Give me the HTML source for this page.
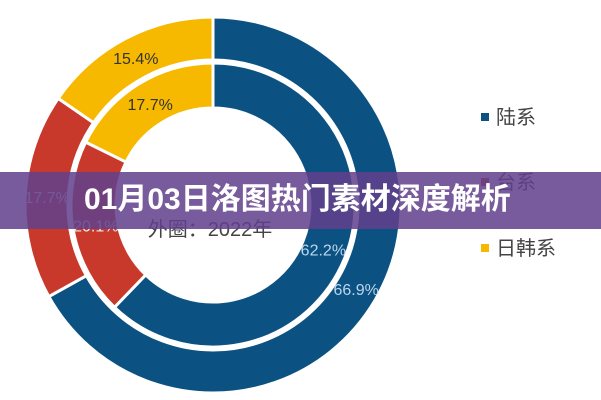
<!DOCTYPE html>
<html><head><meta charset="utf-8"><style>
body{margin:0;width:601px;height:400px;overflow:hidden;background:#fff;font-family:"Liberation Sans","Noto Sans CJK SC",sans-serif;}
#c{position:absolute;left:0;top:0}
.banner{position:absolute;left:0;top:172px;width:601px;height:57px;background:rgba(98,64,140,0.86);}
.banner span{position:absolute;left:84px;top:10px;color:#fff;font-weight:bold;font-size:30px;line-height:36px;font-family:"Liberation Sans","Noto Sans CJK SC",sans-serif;}
</style></head><body>
<svg id="c" width="601" height="400"></svg>
<div class="banner"><span>01月03日洛图热门素材深度解析</span></div>
<script>
const categories=["陆系","台系","日韩系"];
const outerValues=[66.9,17.7,15.4];
const innerValues=[62.2,20.1,17.7];
const colors=["#0b5282","#c8392b","#f6b900"];
const NS="http://www.w3.org/2000/svg";
const svg=document.getElementById('c');
const cx=213,cy=205;
function pt(r,a){return [cx+r*Math.sin(a),cy-r*Math.cos(a)];}
function ring(vals,r0,r1,name,labelR,labelColors){
  const tot=vals.reduce((a,b)=>a+b,0);let s=0;
  vals.forEach((v,i)=>{
    const a0=s/tot*2*Math.PI,a1=(s+v)/tot*2*Math.PI;s+=v;
    const large=(a1-a0)>Math.PI?1:0;
    const p0=pt(r1,a0),p1=pt(r1,a1),p2=pt(r0,a1),p3=pt(r0,a0);
    const p=document.createElementNS(NS,'path');
    p.setAttribute('d',`M${p0}A${r1},${r1} 0 ${large} 1 ${p1}L${p2}A${r0},${r0} 0 ${large} 0 ${p3}Z`);
    p.setAttribute('fill',colors[i]);p.setAttribute('stroke','#fff');p.setAttribute('stroke-width','3');
    
    
    svg.appendChild(p);
    const m=(a0+a1)/2, lp=pt(labelR,m);
    const t=document.createElementNS(NS,'text');
    t.setAttribute('x',lp[0]);t.setAttribute('y',lp[1]+6);t.setAttribute('text-anchor','middle');
    t.setAttribute('font-size','16');t.setAttribute('fill',labelColors[i]);
    t.textContent=v.toFixed(1)+'%';
    
    
    svg.appendChild(t);
  });
}
ring(outerValues,145,188,'outer-ring',166,["#bcd6ee","#e8e8e8","#333"]);
ring(innerValues,97,142,'inner-ring',119,["#bcd6ee","#e8e8e8","#333"]);
const ct=document.createElementNS(NS,'text');
ct.setAttribute('x',210);ct.setAttribute('y',236);ct.setAttribute('text-anchor','middle');
ct.setAttribute('font-size','20');ct.setAttribute('fill','#444');ct.textContent='外圈：2022年';


svg.appendChild(ct);
const ly=[117,182,248];
categories.forEach((c,i)=>{
  const r=document.createElementNS(NS,'rect');
  r.setAttribute('x',481);r.setAttribute('y',ly[i]-4);r.setAttribute('width',8);r.setAttribute('height',8);r.setAttribute('fill',colors[i]);
  
  
  svg.appendChild(r);
  const t=document.createElementNS(NS,'text');
  t.setAttribute('x',496);t.setAttribute('y',ly[i]+7);t.setAttribute('font-size','20');t.setAttribute('fill','#444');
  t.textContent=c;
  
  
  svg.appendChild(t);
});
</script>
</body></html>
